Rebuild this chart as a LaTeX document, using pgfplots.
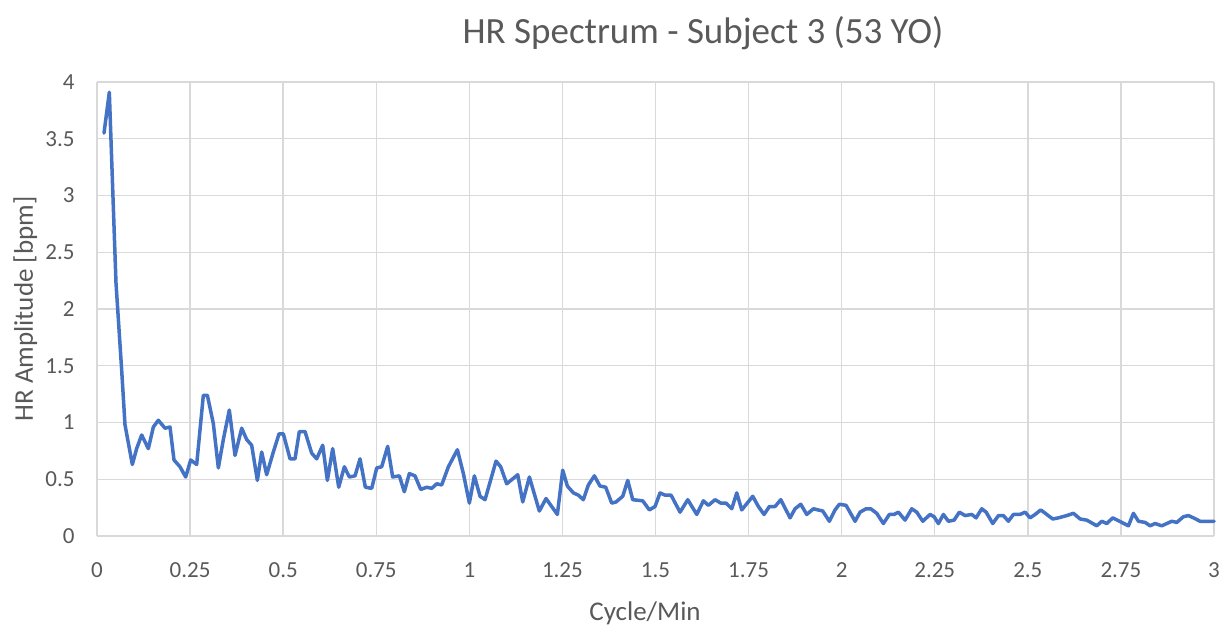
\documentclass[border=0pt]{standalone}
\usepackage{fontspec}
\setmainfont{Carlito}
\usepackage{pgfplots}
\pgfplotsset{compat=1.18}
\definecolor{linec}{RGB}{68,114,196}
\definecolor{gridc}{RGB}{217,217,217}
\definecolor{txtc}{RGB}{89,89,89}
\begin{document}
\begin{tikzpicture}
\path[use as bounding box] (-48.5pt,-46.5pt) rectangle (567pt,268pt);
\begin{axis}[
  at={(0,0)}, anchor=south west,
  scale only axis, width=558.5pt, height=227pt,
  xmin=0, xmax=3, ymin=0, ymax=4,
  axis line style={draw=none},
  grid=major,
  major grid style={gridc, line width=0.7pt},
  xtick={0,0.25,0.5,0.75,1,1.25,1.5,1.75,2,2.25,2.5,2.75,3},
  xticklabels={0,0.25,0.5,0.75,1,1.25,1.5,1.75,2,2.25,2.5,2.75,3},
  ytick={0,0.5,1,1.5,2,2.5,3,3.5,4},
  yticklabels={0,0.5,1,1.5,2,2.5,3,3.5,4},
  major tick length=0pt,
  tick style={draw=none},
  tick label style={font=\fontsize{11.5pt}{13pt}\selectfont, text=txtc, inner sep=0pt},
  xticklabel style={anchor=north, yshift=-13pt},
  yticklabel style={anchor=east, xshift=-11pt},
  clip=false,
]
\addplot[linec, line width=1.75pt, line join=round, line cap=round] coordinates {
(0.0188,3.55)(0.0331,3.91)(0.051,2.23)(0.0663,1.46)(0.0752,0.98)(0.0949,0.63)
(0.1065,0.77)(0.12,0.89)(0.1379,0.77)(0.1513,0.96)(0.1647,1.02)(0.1826,0.95)
(0.1961,0.96)(0.2068,0.67)(0.2229,0.61)(0.2382,0.52)(0.2516,0.67)(0.2677,0.63)
(0.2856,1.24)(0.2964,1.24)(0.3125,0.99)(0.3259,0.60)(0.3393,0.85)(0.3554,1.11)
(0.3707,0.71)(0.3886,0.95)(0.402,0.85)(0.4154,0.80)(0.4307,0.49)(0.4423,0.74)
(0.4557,0.54)(0.4736,0.74)(0.4889,0.90)(0.5005,0.90)(0.5184,0.68)(0.5318,0.68)
(0.5434,0.92)(0.5587,0.92)(0.5766,0.73)(0.59,0.68)(0.6062,0.80)(0.6187,0.49)
(0.633,0.77)(0.6492,0.43)(0.6643,0.61)(0.6777,0.52)(0.693,0.53)(0.7064,0.68)
(0.7207,0.43)(0.7378,0.42)(0.7513,0.60)(0.7646,0.61)(0.7807,0.79)(0.7941,0.52)
(0.812,0.53)(0.8254,0.39)(0.8389,0.55)(0.8541,0.53)(0.8694,0.41)(0.8855,0.43)
(0.899,0.42)(0.9124,0.46)(0.9258,0.45)(0.9437,0.61)(0.9679,0.76)(0.984,0.55)
(1.0001,0.29)(1.0135,0.53)(1.0288,0.35)(1.0422,0.32)(1.0717,0.66)(1.0843,0.61)
(1.1004,0.46)(1.13,0.54)(1.1434,0.30)(1.1613,0.52)(1.188,0.22)(1.206,0.33)
(1.2364,0.19)(1.2508,0.58)(1.2633,0.44)(1.2794,0.38)(1.2928,0.36)(1.3062,0.32)
(1.3197,0.45)(1.3358,0.53)(1.351,0.44)(1.3663,0.43)(1.3824,0.29)(1.394,0.30)
(1.412,0.35)(1.4254,0.49)(1.4388,0.32)(1.4657,0.31)(1.4835,0.23)(1.4988,0.26)
(1.5122,0.38)(1.5256,0.36)(1.5418,0.36)(1.5659,0.21)(1.5866,0.32)(1.6108,0.19)
(1.6286,0.31)(1.642,0.27)(1.66,0.32)(1.6752,0.29)(1.6895,0.29)(1.7048,0.24)
(1.7182,0.38)(1.7316,0.23)(1.7612,0.35)(1.7763,0.26)(1.7916,0.19)(1.8059,0.26)
(1.8211,0.26)(1.8364,0.32)(1.8614,0.16)(1.8748,0.24)(1.8901,0.28)(1.9062,0.19)
(1.924,0.24)(1.9492,0.22)(1.967,0.13)(1.9823,0.23)(1.9939,0.28)(2.0118,0.27)
(2.036,0.13)(2.0494,0.21)(2.0655,0.24)(2.078,0.24)(2.0941,0.20)(2.112,0.11)
(2.1281,0.19)(2.1407,0.19)(2.1524,0.21)(2.1703,0.14)(2.1882,0.24)(2.2017,0.21)
(2.2178,0.13)(2.2374,0.19)(2.2482,0.17)(2.2598,0.11)(2.2732,0.19)(2.2866,0.13)
(2.3019,0.14)(2.3161,0.21)(2.3315,0.18)(2.3494,0.19)(2.361,0.16)(2.3762,0.24)
(2.388,0.21)(2.4058,0.11)(2.421,0.18)(2.4344,0.18)(2.4478,0.13)(2.4612,0.19)
(2.4792,0.19)(2.4926,0.21)(2.506,0.16)(2.5195,0.19)(2.5347,0.23)(2.5508,0.19)
(2.567,0.15)(2.5822,0.16)(2.6046,0.18)(2.6225,0.20)(2.6404,0.15)(2.6583,0.14)
(2.6852,0.09)(2.6986,0.13)(2.712,0.11)(2.7281,0.16)(2.746,0.13)(2.7702,0.09)
(2.7836,0.20)(2.797,0.13)(2.815,0.12)(2.8284,0.09)(2.8418,0.11)(2.8597,0.09)
(2.8866,0.13)(2.9,0.12)(2.9178,0.17)(2.9312,0.18)(2.9447,0.16)(2.9626,0.13)
(3.0,0.13)
};
\end{axis}
\node[anchor=base, text=txtc, font=\fontsize{18.5pt}{22pt}\selectfont, inner sep=0pt] at (303pt,246.5pt) {HR Spectrum - Subject 3 (53 YO)};
\node[anchor=base, text=txtc, font=\fontsize{13.5pt}{16pt}\selectfont, inner sep=0pt] at (274pt,-42pt) {Cycle/Min};
\node[anchor=base, rotate=90, text=txtc, font=\fontsize{13.5pt}{16pt}\selectfont, inner sep=0pt] at (-32pt,113.5pt) {HR Amplitude [bpm]};
\end{tikzpicture}
\end{document}
